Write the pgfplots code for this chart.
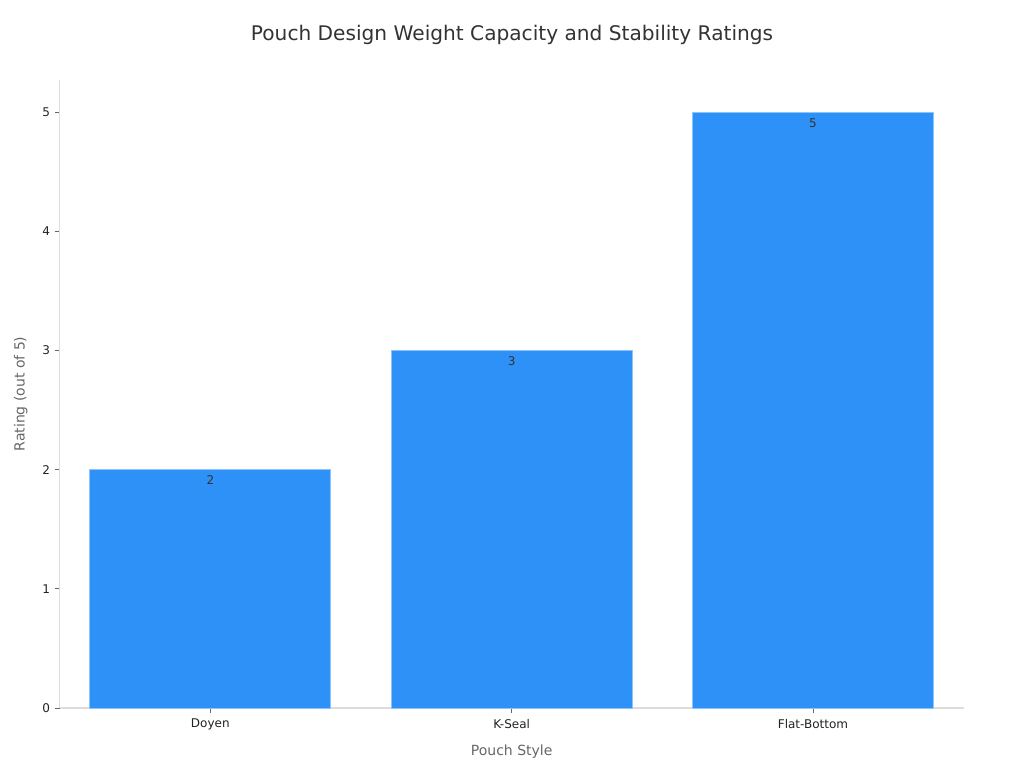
\documentclass[border=0pt]{standalone}
\usepackage{pgfplots}
\pgfplotsset{compat=1.18}
\usepackage{fontspec}
\setmainfont{DejaVu Sans}
\definecolor{barblue}{HTML}{2E91F8}
\definecolor{baredge}{HTML}{8CC4FF}
\definecolor{axgrey}{HTML}{DDDDDD}
\definecolor{titlec}{HTML}{333333}
\definecolor{labc}{HTML}{666666}
\definecolor{tickc}{HTML}{222222}
\begin{document}
\begin{tikzpicture}[x=0.75pt,y=0.75pt]
\useasboundingbox (0,0) rectangle (1024,768);
\begin{axis}[
  at={(44.75pt,45pt)}, anchor=south west,
  scale only axis, width=678pt, height=471pt,
  xmin=-0.5, xmax=2.5, ymin=0, ymax=5.27,
  axis lines*=left,
  axis line style={axgrey, line width=0.8pt},
  x axis line style={-}, y axis line style={-},
  ybar, bar width=0.8,
  xtick=data, xticklabels={Doyen,K-Seal,Flat-Bottom},
  ytick={0,1,2,3,4,5},
  tick align=outside,
  major tick length=3.75pt,
  tick style={labc, line width=0.6pt},
  ticklabel style={font=\fontsize{9pt}{11pt}\selectfont, text=tickc},
  x tick label style={yshift=-1pt},
  /pgf/number format/assume math mode=true,
  xlabel={Pouch Style}, ylabel={Rating (out of 5)},
  label style={font=\fontsize{10.5pt}{12pt}\selectfont, text=labc},
  xlabel style={at={(0.5,0)}, anchor=center, yshift=-32.5pt},
  ylabel style={at={(0,0.5)}, anchor=center, yshift=29.25pt},
  nodes near coords,
  every node near coord/.append style={anchor=north, yshift=-1pt, font=\fontsize{9pt}{11pt}\selectfont, text=titlec},
  clip=false,
]
\addplot[fill=barblue, draw=baredge, line width=0.6pt] coordinates {(0,2) (1,3) (2,5)};
\end{axis}
\node[font=\fontsize{15.1pt}{18pt}\selectfont, text=titlec] at (512,733) {Pouch Design Weight Capacity and Stability Ratings};
\end{tikzpicture}
\end{document}
